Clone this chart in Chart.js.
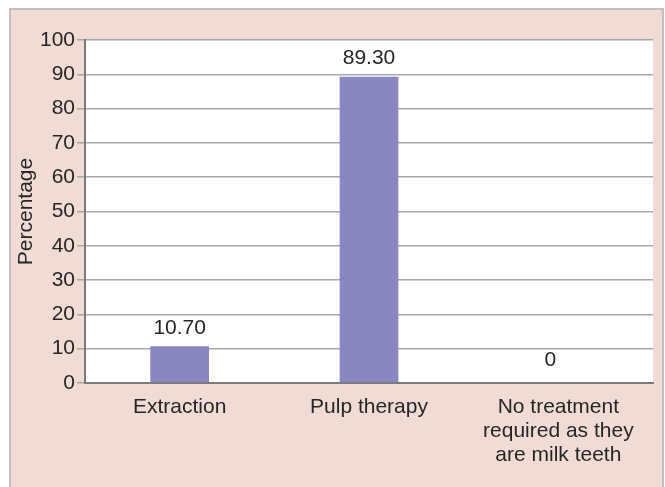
<!DOCTYPE html>
<html>
<head>
<meta charset="utf-8">
<script src="https://cdn.jsdelivr.net/npm/chart.js@4.4.0/dist/chart.umd.min.js"></script>
<style>
  html, body { margin: 0; padding: 0; background: #ffffff; }
  #wrap { position: relative; width: 665px; height: 487px; }
</style>
</head>
<body>
<div id="wrap"><canvas id="barTratamiento" width="665" height="487"></canvas></div>
<script>
const categorias = ['Extraction', 'Pulp therapy', ['No treatment', 'required as they', 'are milk teeth']];
const porcentajes = [10.70, 89.30, 0];
const etiquetas = ['10.70', '89.30', '0'];
const yTicks = [0, 10, 20, 30, 40, 50, 60, 70, 80, 90, 100];

const fuente = '"Liberation Sans", Arial, sans-serif';

// fondo rosado del panel y area blanca del grafico
const fondoPanel = {
  id: 'fondoPanel',
  beforeDraw(chart) {
    const ctx = chart.ctx;
    const a = chart.chartArea;
    ctx.save();
    ctx.fillStyle = '#f0dcd4';
    ctx.fillRect(10, 9, 653, 480);
    ctx.strokeStyle = '#c4c0c0';
    ctx.lineWidth = 2;
    ctx.strokeRect(10, 9, 653, 480);
    ctx.fillStyle = '#ffffff';
    ctx.fillRect(a.left, a.top, a.right - a.left, a.bottom - a.top);
    ctx.restore();
  }
};

// valores encima de cada barra
const valoresBarras = {
  id: 'valoresBarras',
  afterDatasetsDraw(chart) {
    const ctx = chart.ctx;
    const meta = chart.getDatasetMeta(0);
    ctx.save();
    ctx.fillStyle = '#262626';
    ctx.font = '21px ' + fuente;
    ctx.textAlign = 'center';
    ctx.textBaseline = 'bottom';
    meta.data.forEach((bar, i) => {
      const extra = porcentajes[i] === 0 ? 4 : 0;
      ctx.fillText(etiquetas[i], bar.x - extra * 2, bar.y - 8 - extra);
    });
    ctx.restore();
  }
};

const barTratamiento = new Chart('barTratamiento', {
  type: 'bar',
  data: {
    labels: categorias,
    datasets: [{
      data: porcentajes,
      backgroundColor: '#8a86c0',
      barPercentage: 0.62,
      categoryPercentage: 0.5
    }]
  },
  options: {
    responsive: false,
    animation: false,
    layout: {
      padding: { top: 40, right: 12, left: 0, bottom: 0 }
    },
    plugins: {
      legend: { display: false },
      title: { display: false },
      tooltip: { enabled: false }
    },
    scales: {
      x: {
        grid: { display: false },
        border: { display: true, color: '#7a7a7a', width: 2 },
        ticks: {
          color: '#262626',
          font: { family: fuente, size: 21, lineHeight: 1.15 },
          padding: 4,
          maxRotation: 0,
          autoSkip: false
        },
        afterFit(scale) { scale.height = 104; }
      },
      y: {
        min: 0,
        max: 100,
        afterBuildTicks(scale) { scale.ticks = yTicks.map(v => ({ value: v })); },
        grid: { color: '#a8a8a8', lineWidth: 1.5, tickLength: 8, drawTicks: true },
        border: { display: true, color: '#7a7a7a', width: 2 },
        ticks: {
          color: '#262626',
          font: { family: fuente, size: 21 },
          padding: 2
        },
        title: {
          display: true,
          text: 'Percentage',
          color: '#262626',
          font: { family: fuente, size: 21 },
          padding: { top: 14, bottom: 0 }
        },
        afterFit(scale) { scale.width = 85; }
      }
    }
  },
  plugins: [fondoPanel, valoresBarras]
});
</script>
</body>
</html>
